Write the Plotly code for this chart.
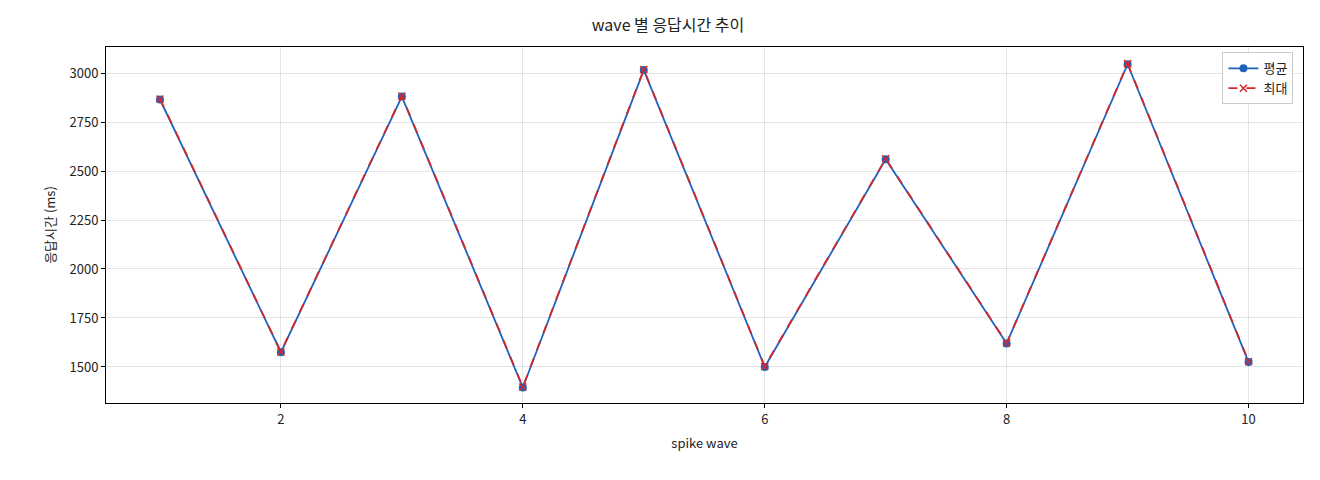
import plotly.graph_objects as go

waves = [1, 2, 3, 4, 5, 6, 7, 8, 9, 10]
avg_ms = [2865, 1575, 2880, 1395, 3015, 1500, 2560, 1620, 3045, 1525]
max_ms = [2868, 1577, 2883, 1398, 3018, 1503, 2563, 1622, 3048, 1528]

fig = go.Figure()
fig.add_trace(go.Scatter(x=waves, y=avg_ms, name="평균", mode="lines+markers",
                         line=dict(color="#1f63c0", width=1.8),
                         marker=dict(symbol="circle", size=8, color="#1f63c0")))
fig.add_trace(go.Scatter(x=waves, y=max_ms, name="최대", mode="lines+markers",
                         line=dict(color="#d62728", width=1.8, dash="dash"),
                         marker=dict(symbol="x-thin", size=7, color="#d62728",
                                     line=dict(color="#d62728", width=1.5))))

axis_common = dict(showline=True, mirror=True, linecolor="black", linewidth=1,
                   ticks="outside", ticklen=4, tickcolor="black", automargin=False,
                   showgrid=True, gridcolor="rgba(0,0,0,0.1)", zeroline=False,
                   tickfont=dict(size=13, color="#222"))
fig.update_xaxes(range=[0.554, 10.45], tickvals=[2, 4, 6, 8, 10],
                 title=dict(text="spike wave", font=dict(size=13), standoff=12), **axis_common)
fig.update_yaxes(range=[1316, 3133], tickvals=[1500, 1750, 2000, 2250, 2500, 2750, 3000],
                 title=dict(text="응답시간 (ms)", font=dict(size=13), standoff=10), **axis_common)

fig.update_layout(
    width=1320, height=480, plot_bgcolor="white", paper_bgcolor="white",
    font=dict(family="Noto Sans CJK KR, DejaVu Sans", color="#222"),
    title=dict(text="wave 별 응답시간 추이", x=0.5, xanchor="center", y=0.975, font=dict(size=16)),
    margin=dict(l=98, r=25, t=39, b=85),
    legend=dict(x=0.992, y=0.985, xanchor="right", yanchor="top",
                bgcolor="white", bordercolor="#ccc", borderwidth=1, font=dict(size=13)),
)
fig.write_html("out.html")
